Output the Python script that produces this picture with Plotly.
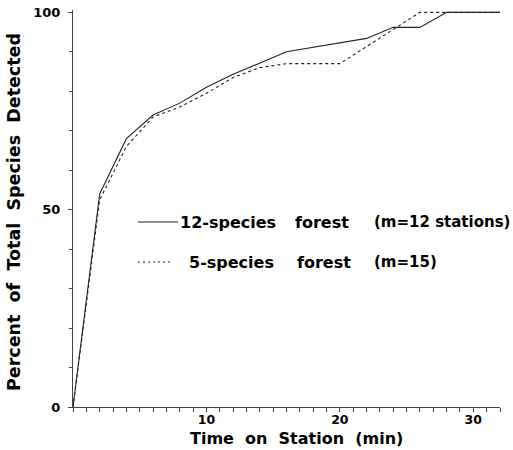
import plotly.graph_objects as go

# Data
t12 = [0, 2, 4, 6, 8, 10, 12, 16, 22, 24, 26, 28, 32]
pct12 = [0, 54, 68, 74, 77, 81, 84.3, 90, 93.4, 96.2, 96.2, 100, 100]

t5 = [0, 2, 4, 6, 8, 10, 12, 14, 16, 20, 26, 32]
pct5 = [0, 52.5, 66, 73.5, 76, 79.5, 83.5, 86, 87, 87, 100, 100]

x_ticks = [10, 20, 30]
y_ticks = [0, 50, 100]

FONT = "DejaVu Sans"
NB = "\u00a0"

fig = go.Figure()
fig.add_trace(go.Scatter(x=t12, y=pct12, mode="lines",
                         line=dict(color="#222", width=1.1), showlegend=False))
fig.add_trace(go.Scatter(x=t5, y=pct5, mode="lines",
                         line=dict(color="#222", width=1.1, dash="3px,3px"), showlegend=False))

W, H = 513, 450
L, R, T, B = 73, 13, 10, 43
pw, ph = W - L - R, H - T - B
YMAX = 100.6


def px(xp):
    return (xp - L) / pw


def py(yp):
    return (H - B - yp) / ph


tick_font = dict(family=FONT, size=13, color="black", weight="bold")
xtick_font = dict(family=FONT, size=12.5, color="black", weight="bold")

fig.update_xaxes(range=[0, 32], showline=True, linecolor="#444", linewidth=1,
                 automargin=False,
                 showgrid=False, zeroline=False, ticks="outside", ticklen=4,
                 tickcolor="#444", tickvals=x_ticks, tickfont=xtick_font,
                 ticklabelstandoff=-3,
                 minor=dict(dtick=1, ticks="outside", ticklen=4, tickcolor="#444"))
fig.update_yaxes(range=[0, YMAX], showline=True, linecolor="#444", linewidth=1,
                 automargin=False,
                 showgrid=False, zeroline=False, ticks="outside", ticklen=4,
                 tickcolor="#444", tickvals=y_ticks, tickfont=tick_font,
                 ticklabelstandoff=5,
                 minor=dict(dtick=10, ticks="outside", ticklen=3, tickcolor="#444"))

leg_font = dict(family=FONT, size=16, color="black", weight="bold")
par_font = dict(family=FONT, size=15, color="black", weight="bold")
ann = []
# legend rows
row1_y, row2_y = 222, 262
for txt, xl, f in [("12-species", 178, leg_font), ("forest", 293, leg_font),
                   ("(m=12 stations)", 372, par_font)]:
    ann.append(dict(text=txt, x=px(xl), y=py(row1_y), xref="paper", yref="paper",
                    xanchor="left", yanchor="middle", showarrow=False, font=f))
for txt, xl, f in [("5-species", 187, leg_font), ("forest", 295, leg_font),
                   ("(m=15)", 372, par_font)]:
    ann.append(dict(text=txt, x=px(xl), y=py(row2_y), xref="paper", yref="paper",
                    xanchor="left", yanchor="middle", showarrow=False, font=f))

title_font = dict(family=FONT, size=16, color="black", weight="bold")
ann.append(dict(text=(NB * 2).join(["Time", "on", "Station", "(min)"]),
                x=px(296), y=py(438.5), xref="paper", yref="paper",
                xanchor="center", yanchor="middle", showarrow=False, font=title_font))
ann.append(dict(text=(NB * 2).join(["Percent", "of", "Total", "Species", "Detected"]),
                x=px(14), y=py(212), xref="paper", yref="paper", textangle=-90,
                xanchor="center", yanchor="middle", showarrow=False,
                font=dict(family=FONT, size=17.5, color="black", weight="bold")))

shapes = [
    dict(type="line", xref="paper", yref="paper", x0=px(138), x1=px(178),
         y0=py(row1_y), y1=py(row1_y), line=dict(color="#222", width=1.1)),
    dict(type="line", xref="paper", yref="paper", x0=px(138), x1=px(173),
         y0=py(row2_y), y1=py(row2_y), line=dict(color="#222", width=1.1, dash="2px,3px")),
]

fig.update_layout(width=W, height=H, margin=dict(l=L, r=R, t=T, b=B, autoexpand=False),
                  plot_bgcolor="white", paper_bgcolor="white",
                  annotations=ann, shapes=shapes, showlegend=False)

fig.write_html("out.html")
